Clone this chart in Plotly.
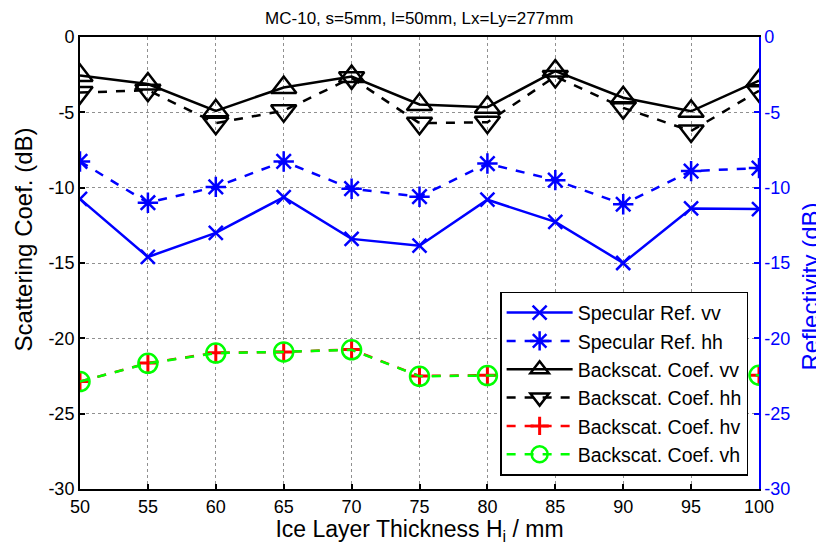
import plotly.graph_objects as go

thickness = [50, 55, 60, 65, 70, 75, 80, 85, 90, 95, 100]

spec_vv = [-10.75, -14.6, -13.0, -10.63, -13.4, -13.85, -10.8, -12.27, -15.0, -11.38, -11.42]
spec_hh = [-8.26, -11.0, -9.95, -8.26, -10.07, -10.6, -8.4, -9.5, -11.1, -8.9, -8.7]
back_vv = [-2.56, -3.12, -4.9, -3.35, -2.62, -4.48, -4.66, -2.26, -4.03, -4.93, -2.9]
back_hh = [-3.69, -3.53, -5.72, -4.89, -2.71, -5.72, -5.66, -2.62, -4.7, -6.24, -3.57]
back_hv = [-22.87, -21.64, -20.96, -20.9, -20.74, -22.5, -22.45, -22.4, -22.5, -22.5, -22.45]
back_vh = [-22.87, -21.66, -20.98, -20.9, -20.76, -22.52, -22.47, -22.4, -22.5, -22.5, -22.45]

y_ticks = [0, -5, -10, -15, -20, -25, -30]
x_ticks = [50, 55, 60, 65, 70, 75, 80, 85, 90, 95, 100]

FONT = "Liberation Sans, Arial, sans-serif"
BLUE = "#0000FF"
GREEN = "#00FF00"
RED = "#FF0000"

fig = go.Figure()

fig.add_trace(go.Scatter(
    x=thickness, y=spec_vv, name="Specular Ref. vv", yaxis="y2",
    mode="lines+markers",
    line=dict(color=BLUE, width=2.5, dash="solid"),
    marker=dict(symbol="x-thin-open", size=14, line=dict(color=BLUE, width=2.5)),
))
fig.add_trace(go.Scatter(
    x=thickness, y=spec_hh, name="Specular Ref. hh", yaxis="y2",
    mode="lines+markers",
    line=dict(color=BLUE, width=2.5, dash="dash"),
    marker=dict(symbol="asterisk-open", size=17, line=dict(color=BLUE, width=2.5)),
))
fig.add_trace(go.Scatter(
    x=thickness, y=back_vv, name="Backscat. Coef. vv",
    mode="lines+markers",
    line=dict(color="black", width=2.5, dash="solid"),
    marker=dict(symbol="triangle-up-open", size=22, color="black", line=dict(color="black", width=2.5)),
))
fig.add_trace(go.Scatter(
    x=thickness, y=back_hh, name="Backscat. Coef. hh",
    mode="lines+markers",
    line=dict(color="black", width=2.5, dash="dash"),
    marker=dict(symbol="triangle-down-open", size=22, color="black", line=dict(color="black", width=2.5)),
))
fig.add_trace(go.Scatter(
    x=thickness, y=back_hv, name="Backscat. Coef. hv",
    mode="lines+markers",
    line=dict(color=RED, width=2.5, dash="dash"),
    marker=dict(symbol="cross-thin-open", size=13, color=RED, line=dict(color=RED, width=3)),
))
fig.add_trace(go.Scatter(
    x=thickness, y=back_vh, name="Backscat. Coef. vh",
    mode="lines+markers",
    line=dict(color=GREEN, width=2.5, dash="dash"),
    marker=dict(symbol="circle-open", size=19, color=GREEN, line=dict(color=GREEN, width=2.5)),
))

fig.update_layout(
    width=816, height=537,
    margin=dict(l=72, r=65, t=29, b=56, autoexpand=False),
    paper_bgcolor="white", plot_bgcolor="white",
    font=dict(family=FONT, color="black", size=18),
    title=dict(text="MC-10, s=5mm, l=50mm, Lx=Ly=277mm", x=0.504, xanchor="center",
               y=0.981, yanchor="middle", font=dict(size=17, family=FONT)),
    xaxis=dict(
        range=[50, 100], tickvals=x_ticks, ticktext=[str(v) for v in x_ticks],
        showgrid=True, gridcolor="#909090", griddash="dot", gridwidth=1,
        showline=True, linecolor="black", linewidth=2, mirror=True,
        ticks="inside", ticklen=5, tickcolor="black", tickwidth=1.5,
        tickfont=dict(size=18), zeroline=False, automargin=False,
        title=dict(text="Ice Layer Thickness H<sub>i</sub> / mm", font=dict(size=23), standoff=2),
    ),
    yaxis=dict(
        range=[-30, 0], tickvals=y_ticks, ticktext=[str(v) for v in y_ticks],
        showgrid=True, gridcolor="#909090", griddash="dot", gridwidth=1,
        showline=True, linecolor="black", linewidth=2,
        ticks="inside", ticklen=5, tickcolor="black", tickwidth=1.5,
        tickfont=dict(size=18), zeroline=False, automargin=False,
    ),
    yaxis2=dict(
        range=[-30, 0], tickvals=y_ticks, ticktext=[str(v) for v in y_ticks],
        overlaying="y", side="right", showgrid=False,
        showline=True, linecolor=BLUE, linewidth=1.5,
        ticks="inside", ticklen=5, tickcolor=BLUE, tickwidth=1.5,
        tickfont=dict(size=18, color=BLUE), zeroline=False, automargin=False,
    ),
    legend=dict(
        x=0.984, xanchor="right", y=0.029, yanchor="bottom",
        bgcolor="white", bordercolor="black", borderwidth=1.5,
        font=dict(size=19.5, family=FONT), tracegroupgap=0,
        itemwidth=66,
    ),
    showlegend=True,
    annotations=[
        dict(text="Scattering Coef. (dB)", textangle=-90, xref="paper", yref="paper",
             x=-0.083, y=0.551, xanchor="center", yanchor="middle", showarrow=False,
             font=dict(size=24, color="black", family=FONT)),
        dict(text="Reflectivity (dB)", textangle=-90, xref="paper", yref="paper",
             x=1.076, y=0.447, xanchor="center", yanchor="middle", showarrow=False,
             font=dict(size=24, color=BLUE, family=FONT)),
    ],
)

fig.write_html("out.html")
